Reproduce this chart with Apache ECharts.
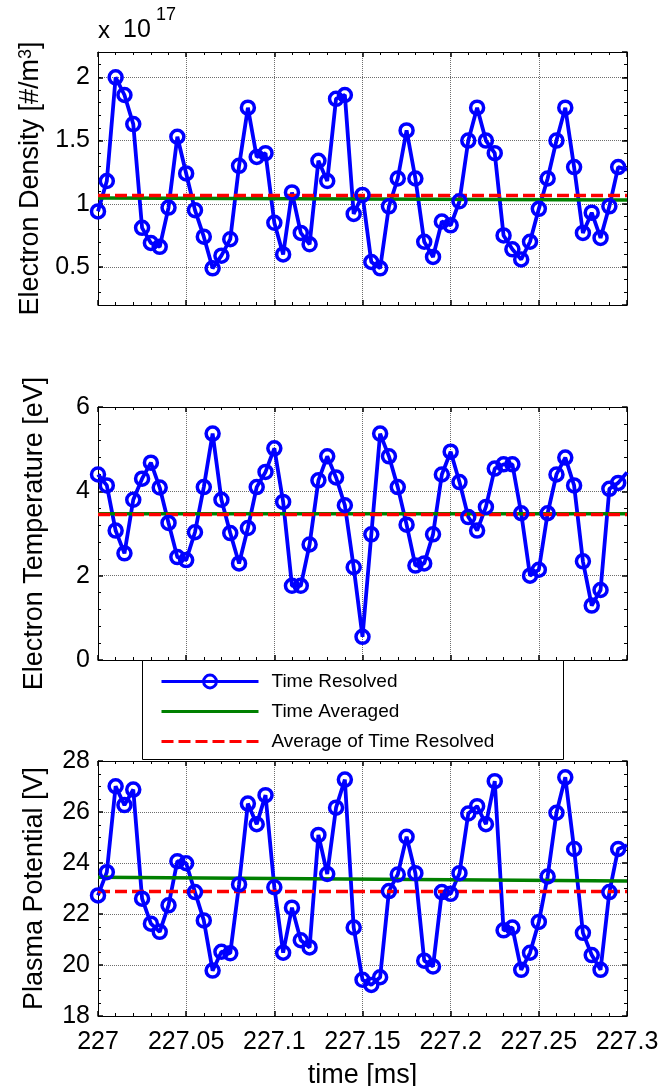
<!DOCTYPE html>
<html>
<head>
<meta charset="utf-8">
<title>Plasma parameters vs time</title>
<script src="https://cdn.jsdelivr.net/npm/echarts@6/dist/echarts.min.js"></script>
<style>
  html, body { margin: 0; padding: 0; background: #fff; }
  #chart { width: 672px; height: 1086px; }
</style>
</head>
<body>
<div id="chart"></div>
<script>
// Sample times [ms]
const times = [
  227.000, 227.005, 227.010, 227.015, 227.020, 227.025, 227.030, 227.035, 227.040, 227.045,
  227.050, 227.055, 227.060, 227.065, 227.070, 227.075, 227.080, 227.085, 227.090, 227.095,
  227.100, 227.105, 227.110, 227.115, 227.120, 227.125, 227.130, 227.135, 227.140, 227.145,
  227.150, 227.155, 227.160, 227.165, 227.170, 227.175, 227.180, 227.185, 227.190, 227.195,
  227.200, 227.205, 227.210, 227.215, 227.220, 227.225, 227.230, 227.235, 227.240, 227.245,
  227.250, 227.255, 227.260, 227.265, 227.270, 227.275, 227.280, 227.285, 227.290, 227.295,
  227.300
];

// Electron density, in units of 1e17 #/m^3
const density = [
  0.94, 1.18, 2.00, 1.86, 1.63, 0.81, 0.69, 0.66, 0.97, 1.53,
  1.24, 0.95, 0.74, 0.49, 0.59, 0.72, 1.30, 1.76, 1.37, 1.40,
  0.85, 0.60, 1.09, 0.77, 0.68, 1.34, 1.18, 1.83, 1.86, 0.92,
  1.07, 0.54, 0.49, 0.98, 1.20, 1.58, 1.20, 0.70, 0.58, 0.86,
  0.83, 1.02, 1.50, 1.76, 1.50, 1.40, 0.75, 0.64, 0.56, 0.70,
  0.96, 1.20, 1.50, 1.76, 1.29, 0.77, 0.93, 0.73, 0.98, 1.29,
  1.27
];

// Electron temperature [eV]
const temperature = [
  4.40, 4.14, 3.07, 2.53, 3.80, 4.30, 4.68, 4.09, 3.25, 2.44,
  2.37, 3.03, 4.10, 5.37, 3.80, 3.01, 2.29, 3.13, 4.10, 4.46,
  5.02, 3.75, 1.76, 1.76, 2.74, 4.26, 4.83, 4.33, 3.67, 2.20,
  0.55, 2.98, 5.37, 4.83, 4.10, 3.21, 2.24, 2.29, 2.98, 4.40,
  4.94, 4.22, 3.39, 3.07, 3.63, 4.54, 4.64, 4.64, 3.48, 2.00,
  2.14, 3.48, 4.40, 4.80, 4.14, 2.34, 1.29, 1.66, 4.06, 4.20,
  4.45
];

// Plasma potential [V]
const potential = [
  22.73, 23.64, 27.01, 26.27, 26.88, 22.60, 21.62, 21.30, 22.34, 24.07,
  23.99, 22.86, 21.75, 19.78, 20.52, 20.46, 23.16, 26.33, 25.52, 26.66,
  23.05, 20.48, 22.25, 20.97, 20.69, 25.10, 23.57, 26.17, 27.27, 21.47,
  19.42, 19.22, 19.52, 22.90, 23.55, 25.03, 23.60, 20.17, 19.94, 22.86,
  22.79, 23.60, 25.94, 26.23, 25.52, 27.21, 21.36, 21.47, 19.81, 20.48,
  21.69, 23.47, 25.97, 27.36, 24.55, 21.26, 20.39, 19.81, 22.86, 24.55,
  24.70
];

// Time-averaged values at the start and end of the window
const densityTimeAveraged     = [1.045, 1.030];
const temperatureTimeAveraged = [3.47, 3.47];
const potentialTimeAveraged   = [23.44, 23.29];

// Mean of the time-resolved samples
const densityMean     = 1.065;
const temperatureMean = 3.45;
const potentialMean   = 22.88;

const seriesNames = ['Time Resolved', 'Time Averaged', 'Average of Time Resolved'];

const FONT = "'Liberation Sans', Arial, Helvetica, sans-serif";
const BLUE = '#0000ff', GREEN = '#008000', RED = '#ff0000';
const CLEAR = 'rgba(255,255,255,0)';
const T0 = 227, T1 = 227.3;

// Fixed panel rectangles; labels may sit outside them without shrinking the plots
const grids = [
  { left: 98, top: 52,  width: 529, height: 253, outerBoundsMode: 'none' },
  { left: 98, top: 407, width: 529, height: 253, outerBoundsMode: 'none' },
  { left: 98, top: 761, width: 529, height: 255, outerBoundsMode: 'none' }
];

const tickLabelStyle = { color: '#000', fontSize: 25, fontFamily: FONT };
const nameStyle = { color: '#000', fontSize: 27, fontFamily: FONT };
const frameLine = { show: true, onZero: false, lineStyle: { color: '#000', width: 1 } };
const gridLine = { show: true, lineStyle: { color: '#6e6e6e', type: 'dotted', width: 1 } };

function timeAxis(g, position, withLabels) {
  return {
    type: 'value', gridIndex: g, position: position,
    min: T0, max: T1, interval: 0.05,
    axisLine: frameLine,
    axisTick: { show: true, inside: true, length: 5, lineStyle: { color: '#000', width: 1.5 } },
    minorTick: { show: true, splitNumber: 5, length: 3, lineStyle: { color: '#000', width: 1 } },
    axisLabel: Object.assign({ show: withLabels, margin: 14 }, tickLabelStyle),
    splitLine: Object.assign({}, gridLine, { show: position === 'bottom' }),
    name: withLabels ? 'time [ms]' : '',
    nameLocation: 'middle', nameGap: 46, nameTextStyle: nameStyle
  };
}

function valueAxis(g, position, range, name, minorSplit) {
  const main = position === 'left';
  const ax = {
    type: 'value', gridIndex: g, position: position,
    min: range.min, max: range.max,
    axisLine: frameLine,
    axisTick: { show: true, inside: true, length: 5, lineStyle: { color: '#000', width: 1.5 } },
    minorTick: { show: minorSplit > 0, splitNumber: minorSplit || 5, length: 3, lineStyle: { color: '#000', width: 1 } },
    axisLabel: Object.assign({ show: main, margin: 8, showMinLabel: range.edgeLabels, showMaxLabel: range.edgeLabels }, tickLabelStyle),
    splitLine: Object.assign({}, gridLine, { show: main }),
    name: main ? name : '',
    nameLocation: 'middle', nameGap: 50,
    nameTextStyle: Object.assign({}, nameStyle, {
      rich: { sup: { fontSize: 18, fontFamily: FONT, color: '#000', verticalAlign: 'top', lineHeight: 18 } }
    })
  };
  if (range.interval) ax.interval = range.interval;
  return ax;
}

// Extra tick-only axis for the fine subdivisions of the density scale
function fineTickAxis(g, position, range, step) {
  return {
    type: 'value', gridIndex: g, position: position, offset: 0,
    min: range.min, max: range.max, interval: step,
    axisLine: { show: false },
    axisTick: { show: true, inside: true, length: 3, lineStyle: { color: '#000', width: 1 } },
    axisLabel: { show: false },
    splitLine: { show: false }
  };
}

const densityRange = { min: 0.2, max: 2.2, edgeLabels: false };
const temperatureRange = { min: 0, max: 6, interval: 2, edgeLabels: true };
const potentialRange = { min: 18, max: 28, interval: 2, edgeLabels: true };

const xAxes = [
  timeAxis(0, 'bottom', false), timeAxis(0, 'top', false),
  timeAxis(1, 'bottom', false), timeAxis(1, 'top', false),
  timeAxis(2, 'bottom', true),  timeAxis(2, 'top', false)
];

const yAxes = [
  valueAxis(0, 'left',  densityRange, 'Electron Density [#/m{sup|3}]', 0),
  valueAxis(0, 'right', densityRange, '', 0),
  fineTickAxis(0, 'left',  densityRange, 0.1),
  fineTickAxis(0, 'right', densityRange, 0.1),
  valueAxis(1, 'left',  temperatureRange, 'Electron Temperature [eV]', 5),
  valueAxis(1, 'right', temperatureRange, '', 5),
  valueAxis(2, 'left',  potentialRange, 'Plasma Potential [V]', 4),
  valueAxis(2, 'right', potentialRange, '', 4)
];

function panelSeries(xIndex, yIndex, values, averaged, mean) {
  const last = times.length - 1;
  return [
    {
      name: seriesNames[0], type: 'line', xAxisIndex: xIndex, yAxisIndex: yIndex,
      data: times.map((t, i) => i === last ? { value: [t, values[i]], symbol: 'none' } : [t, values[i]]),
      symbol: 'circle', symbolSize: 13, clip: true,
      lineStyle: { color: BLUE, width: 3.8 },
      itemStyle: { color: CLEAR, borderColor: BLUE, borderWidth: 3.5 },
      emphasis: { disabled: true }
    },
    {
      name: seriesNames[1], type: 'line', xAxisIndex: xIndex, yAxisIndex: yIndex,
      data: [[T0, averaged[0]], [T1, averaged[1]]],
      symbol: 'none', lineStyle: { color: GREEN, width: 3.5 },
      itemStyle: { color: CLEAR, borderColor: CLEAR, borderWidth: 0 },
      emphasis: { disabled: true }
    },
    {
      name: seriesNames[2], type: 'line', xAxisIndex: xIndex, yAxisIndex: yIndex,
      data: [[T0, mean], [T1, mean]],
      symbol: 'none', lineStyle: { color: RED, width: 3.5, type: [12, 5] },
      itemStyle: { color: CLEAR, borderColor: CLEAR, borderWidth: 0 },
      emphasis: { disabled: true }
    }
  ];
}

const series = [].concat(
  panelSeries(0, 0, density, densityTimeAveraged, densityMean),
  panelSeries(2, 4, temperature, temperatureTimeAveraged, temperatureMean),
  panelSeries(4, 6, potential, potentialTimeAveraged, potentialMean)
);

const chart = echarts.init(document.getElementById('chart'), null, { renderer: 'canvas' });
chart.setOption({
  animation: false,
  backgroundColor: '#fff',
  textStyle: { fontFamily: FONT },
  grid: grids,
  xAxis: xAxes,
  yAxis: yAxes,
  legend: {
    data: [
      { name: seriesNames[0], itemStyle: { color: CLEAR, borderColor: BLUE, borderWidth: 3 }, lineStyle: { width: 3 } },
      { name: seriesNames[1], itemStyle: { color: CLEAR, borderColor: CLEAR, borderWidth: 0 }, lineStyle: { width: 3 } },
      { name: seriesNames[2], itemStyle: { color: CLEAR, borderColor: CLEAR, borderWidth: 0 }, lineStyle: { width: 3 } }
    ],
    orient: 'vertical',
    left: 160, top: 672,
    padding: 0,
    itemWidth: 97, itemHeight: 16, itemGap: 11,
    selectedMode: false,
    textStyle: { color: '#000', fontSize: 19, fontFamily: FONT, padding: [0, 0, 0, 8] },
    z: 5
  },
  graphic: [
    {
      type: 'rect', z: 4,
      shape: { x: 142.5, y: 660.5, width: 421, height: 99 },
      style: { fill: '#fff', stroke: '#000', lineWidth: 1 }
    },
    {
      type: 'text', left: 98, top: 19,
      style: { text: 'x', fontSize: 24, fontFamily: FONT, fill: '#000' }
    },
    {
      type: 'text', left: 123, top: 18,
      style: { text: '10', fontSize: 25, fontFamily: FONT, fill: '#000' }
    },
    {
      type: 'text', left: 156, top: 6,
      style: { text: '17', fontSize: 18, fontFamily: FONT, fill: '#000' }
    }
  ],
  series: series
});
</script>
</body>
</html>
